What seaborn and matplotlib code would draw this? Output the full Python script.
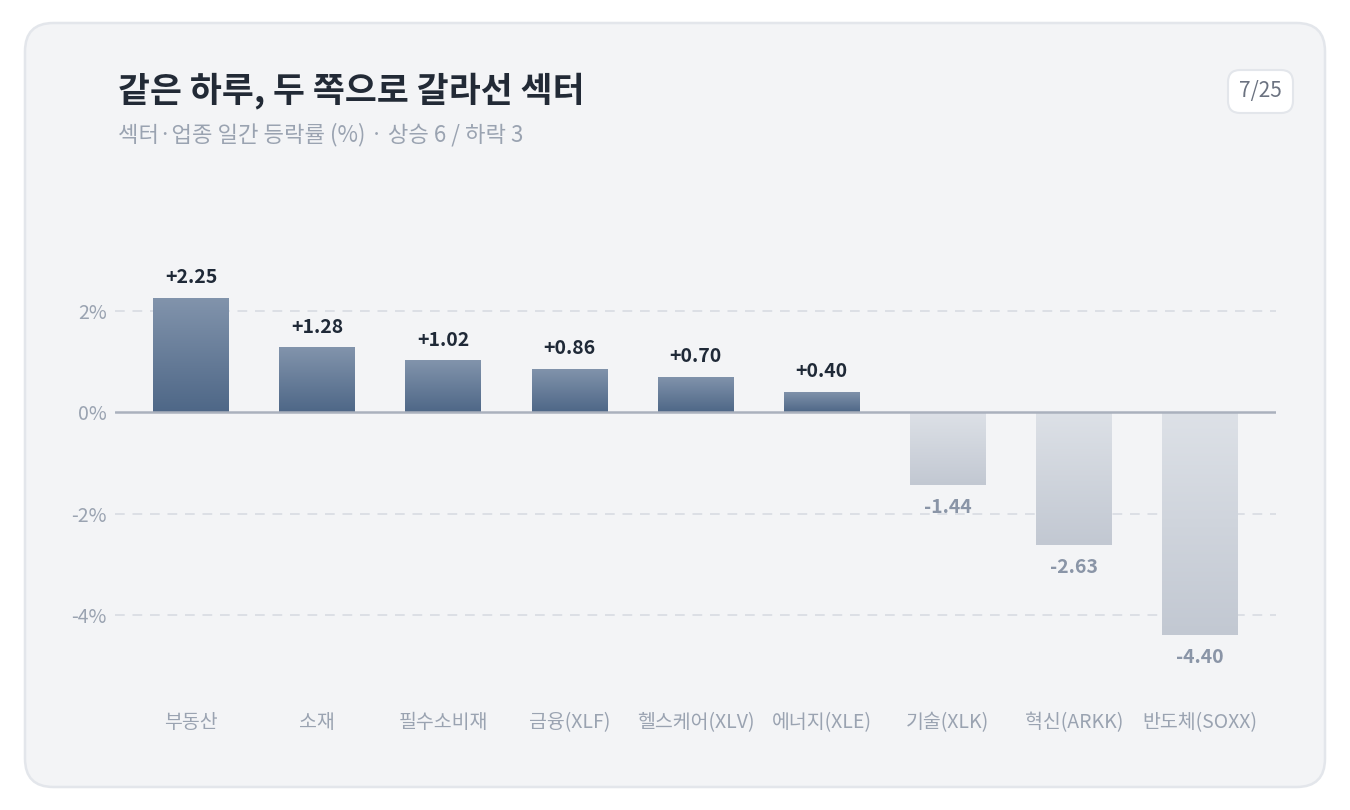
import numpy as np
import pandas as pd
import matplotlib
matplotlib.use("Agg")
import matplotlib.pyplot as plt
from matplotlib.patches import FancyBboxPatch
from matplotlib.colors import LinearSegmentedColormap
import seaborn as sns

# data
sectors = ['부동산', '소재', '필수소비재', '금융(XLF)', '헬스케어(XLV)', '에너지(XLE)',
           '기술(XLK)', '혁신(ARKK)', '반도체(SOXX)']
changes = [2.25, 1.28, 1.02, 0.86, 0.70, 0.40, -1.44, -2.63, -4.40]
yticks = [-4, -2, 0, 2]
title = '같은 하루, 두 쪽으로 갈라선 섹터'
subtitle = '섹터·업종 일간 등락률 (%) · 상승 6 / 하락 3'
badge = '7/25'

sns.set_theme(style='white')
plt.rcParams['font.family'] = ['Noto Sans CJK KR', 'DejaVu Sans']

df = pd.DataFrame({'sector': sectors, 'change': changes})

fig = plt.figure(figsize=(13.5, 8.1), dpi=100)
fig.patch.set_facecolor('white')

# card background
card = FancyBboxPatch((25 / 1350, 1 - 787 / 810), 1300 / 1350, 764 / 810,
                      boxstyle='round,pad=0,rounding_size=0.021',
                      transform=fig.transFigure, facecolor='#f3f4f6',
                      edgecolor='#e3e6eb', linewidth=1.8, zorder=-10,
                      mutation_aspect=1350 / 810)
fig.patches.append(card)

ax = fig.add_axes([115.3 / 1350, 1 - 691 / 810, (1275.7 - 115.3) / 1350, (691 - 184) / 810])
ax.set_facecolor('none')
ax.set_zorder(1)

sns.barplot(data=df, x='sector', y='change', width=0.6, color='#5a7090',
            ax=ax, zorder=2, errorbar=None)

ax.set_xlim(-0.6, 8.6)
ax.set_ylim(-5.5, 4.5)

pos_cmap = LinearSegmentedColormap.from_list('pos', ['#8294ac', '#4e6787'])
neg_cmap = LinearSegmentedColormap.from_list('neg', ['#dde1e7', '#c2c8d2'])
grad = np.linspace(0, 1, 256).reshape(-1, 1)

for patch, val in zip(ax.patches, changes):
    x0 = patch.get_x()
    w = patch.get_width()
    y0, y1 = sorted([0, val])
    cmap = pos_cmap if val >= 0 else neg_cmap
    im = ax.imshow(grad, cmap=cmap, origin='upper', aspect='auto',
                   extent=[x0, x0 + w, y0, y1], zorder=2)
    im.set_clip_path(patch)
    patch.set_facecolor('none')
    patch.set_edgecolor('none')
    xc = x0 + w / 2
    if val >= 0:
        ax.annotate(f'+{val:.2f}', (xc, val), xytext=(0, 14.5), textcoords='offset points',
                    ha='center', va='center', fontsize=14, fontweight='bold',
                    color='#1f2937')
    else:
        ax.annotate(f'{val:.2f}', (xc, val), xytext=(0, -16), textcoords='offset points',
                    ha='center', va='center', fontsize=14, fontweight='bold',
                    color='#8a95a7')

ax.set_xlim(-0.6, 8.6)
ax.set_ylim(-5.5, 4.5)

for t in yticks:
    if t == 0:
        ax.axhline(0, color='#aab1bd', linewidth=1.8, zorder=3)
    else:
        ax.axhline(t, color='#dcdfe5', linewidth=1.4, linestyle=(0, (5, 4)), zorder=1)

ax.set_yticks(yticks)
ax.set_yticklabels([f'{t}%' for t in yticks], fontsize=14, color='#9aa3b1')
ax.tick_params(axis='y', length=0, pad=6)
ax.tick_params(axis='x', length=0, pad=15, labelsize=14, labelcolor='#9aa3b1')
ax.set_xlabel('')
ax.set_ylabel('')
sns.despine(ax=ax, left=True, bottom=True)
ax.grid(False)

fig.text(118 / 1350, 1 - 91 / 810, title, fontsize=25, fontweight='bold',
         color='#222a36', va='center', ha='left')
fig.text(118 / 1350, 1 - 135 / 810, subtitle, fontsize=16,
         color='#9aa3b1', va='center', ha='left')

badge_box = FancyBboxPatch((1228 / 1350, 1 - 113 / 810), 65 / 1350, 43 / 810,
                           boxstyle='round,pad=0,rounding_size=0.009',
                           transform=fig.transFigure, facecolor='white',
                           edgecolor='#e3e6eb', linewidth=1.5, zorder=-5,
                           mutation_aspect=1350 / 810)
fig.patches.append(badge_box)
fig.text(1260.5 / 1350, 1 - 91 / 810, badge, fontsize=15, color='#6b7280',
         ha='center', va='center')

fig.savefig('out.png', dpi=100, facecolor='white')
